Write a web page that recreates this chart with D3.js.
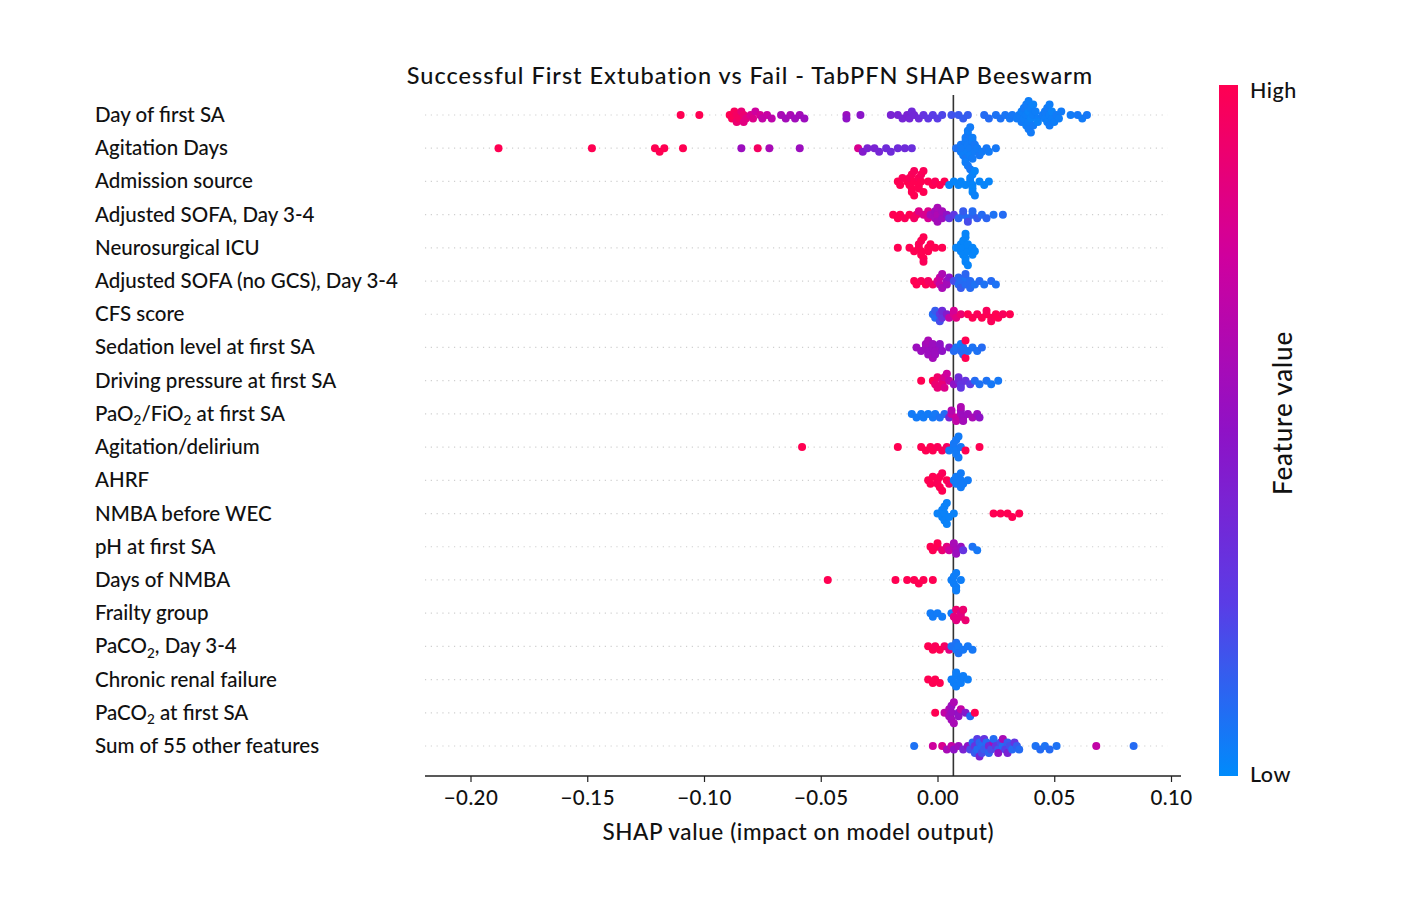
<!DOCTYPE html>
<html>
<head>
<meta charset="utf-8">
<script src="https://cdn.jsdelivr.net/npm/d3@7"></script>
<style>
  body { margin: 0; background: #fff; }
  text { font-family: Lato, "Noto Sans", sans-serif; font-weight: 500; fill: #111; }
</style>
</head>
<body>
<div id="chart"></div>
<script>
// Feature names, top to bottom
const features = [
  "Day of first SA", "Agitation Days", "Admission source", "Adjusted SOFA, Day 3-4",
  "Neurosurgical ICU", "Adjusted SOFA (no GCS), Day 3-4", "CFS score",
  "Sedation level at first SA", "Driving pressure at first SA", "PaO2/FiO2 at first SA",
  "Agitation/delirium", "AHRF", "NMBA before WEC", "pH at first SA", "Days of NMBA",
  "Frailty group", "PaCO2, Day 3-4", "Chronic renal failure", "PaCO2 at first SA",
  "Sum of 55 other features"
];

const xTicks = [-0.20, -0.15, -0.10, -0.05, 0.00, 0.05, 0.10];
const refLine = 0.0068;   // vertical reference line

// [shap value, feature value (0 = low, 1 = high)]
const dayFirstSA = [
  [-0.110, 1], [-0.102, 1],
  [-0.089, 1], [-0.088, 0.98], [-0.087, 0.97], [-0.086, 0.95], [-0.086, 0.9], [-0.085, 0.95], [-0.084, 0.88],
  [-0.083, 0.9], [-0.083, 0.85], [-0.082, 0.85], [-0.080, 0.8], [-0.079, 0.82], [-0.078, 0.75], [-0.076, 0.78],
  [-0.075, 0.7], [-0.073, 0.72], [-0.071, 0.68],
  [-0.067, 0.6], [-0.065, 0.58], [-0.063, 0.6], [-0.061, 0.57], [-0.059, 0.58], [-0.057, 0.55],
  [-0.039, 0.55], [-0.039, 0.5], [-0.033, 0.48],
  [-0.020, 0.4], [-0.017, 0.4], [-0.015, 0.38], [-0.013, 0.4], [-0.012, 0.38], [-0.011, 0.36], [-0.010, 0.37],
  [-0.008, 0.35], [-0.006, 0.3], [-0.004, 0.28], [-0.002, 0.25], [0.000, 0.25], [0.002, 0.22],
  [0.006, 0.18], [0.009, 0.16], [0.011, 0.15], [0.013, 0.15],
  [0.020, 0.1], [0.022, 0.1], [0.025, 0.08], [0.027, 0.08], [0.029, 0.07], [0.031, 0.06], [0.032, 0.06],
  [0.034, 0.05], [0.035, 0.05], [0.036, 0.04], [0.036, 0.05], [0.037, 0.04], [0.037, 0.05], [0.038, 0.04],
  [0.038, 0.04], [0.038, 0.05], [0.039, 0.03], [0.039, 0.04], [0.039, 0.05], [0.039, 0.04], [0.040, 0.03],
  [0.040, 0.04], [0.040, 0.05], [0.041, 0.04], [0.041, 0.05], [0.041, 0.03], [0.042, 0.04], [0.043, 0.04],
  [0.043, 0.03],
  [0.045, 0.05], [0.046, 0.04], [0.046, 0.05], [0.047, 0.04], [0.047, 0.05], [0.048, 0.04], [0.048, 0.05],
  [0.048, 0.04], [0.049, 0.04], [0.049, 0.03], [0.050, 0.04], [0.051, 0.05], [0.052, 0.04], [0.053, 0.05],
  [0.057, 0.05], [0.060, 0.06], [0.062, 0.05], [0.064, 0.06]
];
const agitationDays = [
  [-0.188, 1], [-0.148, 1], [-0.121, 1], [-0.119, 1], [-0.117, 1], [-0.109, 1],
  [-0.084, 0.55], [-0.077, 0.95], [-0.072, 0.6], [-0.059, 0.55],
  [-0.034, 0.8], [-0.032, 0.45], [-0.030, 0.4], [-0.027, 0.4], [-0.025, 0.38], [-0.022, 0.35],
  [-0.020, 0.35], [-0.017, 0.35], [-0.014, 0.35], [-0.011, 0.33],
  [0.008, 0.08], [0.010, 0.05], [0.010, 0.06], [0.011, 0.05], [0.011, 0.04], [0.012, 0.05], [0.012, 0.06],
  [0.012, 0.05], [0.012, 0.04], [0.013, 0.04], [0.013, 0.05], [0.013, 0.06], [0.013, 0.05], [0.013, 0.04],
  [0.014, 0.05], [0.014, 0.04], [0.014, 0.06], [0.014, 0.05], [0.015, 0.05], [0.015, 0.05], [0.015, 0.04],
  [0.016, 0.05], [0.016, 0.06], [0.017, 0.05], [0.018, 0.06], [0.019, 0.05], [0.021, 0.06], [0.022, 0.05],
  [0.025, 0.06]
];
const admissionSource = [
  [-0.017, 1], [-0.016, 1], [-0.015, 0.98], [-0.013, 1], [-0.012, 1], [-0.012, 0.97], [-0.011, 1],
  [-0.011, 0.98], [-0.011, 1], [-0.010, 1], [-0.010, 0.97], [-0.010, 1], [-0.008, 1], [-0.008, 0.98],
  [-0.008, 1], [-0.007, 1], [-0.007, 0.97], [-0.006, 1], [-0.006, 0.98], [-0.004, 1], [-0.002, 1],
  [-0.001, 0.98], [0.001, 1], [0.003, 1],
  [0.005, 0.02], [0.007, 0.02], [0.009, 0.02], [0.010, 0.02], [0.012, 0.02], [0.014, 0.02], [0.014, 0.03],
  [0.015, 0.02], [0.015, 0.02], [0.015, 0.03], [0.015, 0.02], [0.016, 0.02], [0.016, 0.03], [0.018, 0.02],
  [0.020, 0.02], [0.022, 0.02]
];
const adjSofa = [
  [-0.019, 1], [-0.017, 1], [-0.016, 1], [-0.014, 0.98], [-0.012, 1], [-0.010, 0.95], [-0.009, 0.95],
  [-0.008, 0.82], [-0.006, 0.8], [-0.004, 0.78], [-0.004, 0.82],
  [-0.003, 0.6], [-0.001, 0.6], [-0.001, 0.58], [0.000, 0.62], [0.000, 0.58], [0.000, 0.6], [0.002, 0.55],
  [0.002, 0.58], [0.004, 0.5],
  [0.005, 0.3], [0.007, 0.28], [0.009, 0.12], [0.011, 0.1], [0.011, 0.15], [0.013, 0.1], [0.013, 0.2],
  [0.015, 0.12], [0.015, 0.1], [0.017, 0.15], [0.019, 0.1], [0.021, 0.12], [0.024, 0.08], [0.028, 0.1]
];
const neuroICU = [
  [-0.017, 1], [-0.012, 1], [-0.010, 1], [-0.008, 1], [-0.008, 0.98], [-0.007, 1], [-0.007, 1], [-0.007, 0.98],
  [-0.006, 1], [-0.006, 1], [-0.006, 0.98], [-0.004, 1], [-0.004, 1], [-0.003, 1], [-0.001, 1], [0.002, 1],
  [0.008, 0.02], [0.010, 0.02], [0.010, 0.02], [0.011, 0.02], [0.011, 0.02], [0.011, 0.02], [0.012, 0.02],
  [0.012, 0.02], [0.012, 0.02], [0.012, 0.02], [0.013, 0.02], [0.013, 0.02], [0.013, 0.02], [0.015, 0.02],
  [0.015, 0.02], [0.016, 0.02]
];
const adjSofaNoGcs = [
  [-0.010, 1], [-0.009, 1], [-0.007, 0.98], [-0.005, 1], [-0.004, 0.95], [-0.002, 0.95],
  [0.000, 0.8], [0.001, 0.7], [0.001, 0.72], [0.002, 0.6], [0.002, 0.62], [0.004, 0.55], [0.004, 0.58], [0.005, 0.5],
  [0.007, 0.2], [0.009, 0.1], [0.009, 0.12], [0.010, 0.1], [0.010, 0.15], [0.012, 0.1], [0.012, 0.08],
  [0.012, 0.12], [0.014, 0.1], [0.014, 0.1], [0.016, 0.08], [0.018, 0.1], [0.020, 0.08], [0.023, 0.1], [0.025, 0.08]
];
const cfsScore = [
  [-0.002, 0.1], [-0.001, 0.1], [-0.001, 0.15], [0.001, 0.25], [0.001, 0.2], [0.002, 0.3], [0.002, 0.35],
  [0.004, 0.45], [0.005, 0.7], [0.007, 0.8], [0.007, 0.78], [0.008, 0.85], [0.010, 0.9],
  [0.013, 1], [0.015, 1], [0.017, 0.98], [0.019, 1], [0.021, 1], [0.021, 0.97], [0.023, 1], [0.023, 0.98],
  [0.025, 1], [0.026, 1], [0.028, 0.97], [0.031, 1]
];
const sedationLevel = [
  [-0.009, 0.55], [-0.007, 0.55], [-0.005, 0.55], [-0.005, 0.58], [-0.004, 0.55], [-0.004, 0.55], [-0.004, 0.6],
  [-0.002, 0.55], [-0.002, 0.55], [-0.002, 0.58], [-0.001, 0.55], [-0.001, 0.55], [0.001, 0.55], [0.001, 0.5],
  [0.002, 0.5], [0.005, 0.45],
  [0.007, 0.1], [0.008, 0.08], [0.010, 0.1], [0.010, 0.05], [0.011, 0.08], [0.011, 0.1], [0.012, 1], [0.012, 1],
  [0.013, 0.08], [0.015, 0.08], [0.017, 0.08], [0.019, 0.1]
];
const drivingPressure = [
  [-0.007, 1], [-0.002, 1], [-0.001, 0.9], [0.000, 0.92], [0.000, 0.88], [0.002, 0.85], [0.002, 0.88],
  [0.003, 0.8], [0.003, 0.82], [0.004, 0.75], [0.005, 0.7],
  [0.007, 0.5], [0.009, 0.4], [0.009, 0.35], [0.010, 0.3], [0.010, 0.28], [0.012, 0.3], [0.014, 0.25],
  [0.016, 0.1], [0.018, 0.08], [0.021, 0.08], [0.023, 0.06], [0.026, 0.06]
];
const pao2Fio2 = [
  [-0.011, 0.05], [-0.009, 0.05], [-0.007, 0.05], [-0.006, 0.05], [-0.004, 0.05], [-0.002, 0.06],
  [-0.001, 0.06], [0.001, 0.08], [0.003, 0.1],
  [0.005, 0.4], [0.006, 0.7], [0.006, 0.65], [0.008, 0.75], [0.008, 0.7], [0.010, 0.6], [0.010, 0.55],
  [0.010, 0.62], [0.011, 0.55], [0.011, 0.58], [0.013, 0.55], [0.015, 0.6], [0.017, 0.55], [0.018, 0.5]
];
const agitationDelirium = [
  [-0.058, 1], [-0.017, 1], [-0.007, 1], [-0.005, 1], [-0.003, 1], [-0.002, 1], [0.000, 0.98],
  [0.002, 0.98], [0.004, 0.95],
  [0.005, 0.05], [0.007, 0.05], [0.007, 0.06], [0.008, 0.05], [0.008, 0.05], [0.008, 0.06], [0.009, 0.05],
  [0.009, 0.05], [0.010, 0.06], [0.012, 1], [0.018, 1]
];
const ahrf = [
  [-0.004, 1], [-0.003, 1], [-0.002, 1], [0.000, 1], [0.000, 0.98], [0.001, 1], [0.001, 1], [0.002, 0.98],
  [0.002, 1], [0.004, 1], [0.005, 0.95],
  [0.007, 0.05], [0.008, 0.05], [0.008, 0.05], [0.010, 0.05], [0.010, 0.05], [0.010, 0.05], [0.011, 0.05],
  [0.013, 0.05]
];
const nmbaBeforeWec = [
  [0.000, 0.03], [0.002, 0.03], [0.002, 0.03], [0.003, 0.03], [0.003, 0.03], [0.003, 0.03], [0.004, 0.03],
  [0.004, 0.03], [0.005, 0.03], [0.007, 0.03],
  [0.024, 1], [0.027, 1], [0.030, 1], [0.032, 1], [0.035, 1]
];
const phFirstSA = [
  [-0.003, 1], [-0.002, 1], [0.000, 0.98], [0.000, 1], [0.002, 0.9], [0.004, 0.85],
  [0.005, 0.75], [0.007, 0.65], [0.007, 0.6], [0.008, 0.6], [0.008, 0.55], [0.010, 0.55], [0.011, 0.3],
  [0.015, 0.08], [0.017, 0.06]
];
const daysNmba = [
  [-0.047, 1], [-0.018, 1], [-0.013, 1], [-0.010, 1], [-0.008, 1], [-0.006, 1], [-0.002, 1],
  [0.006, 0.04], [0.007, 0.04], [0.007, 0.04], [0.008, 0.04], [0.008, 0.04], [0.008, 0.04], [0.010, 0.04]
];
const frailtyGroup = [
  [-0.003, 0.05], [-0.002, 0.05], [0.000, 0.05], [0.002, 0.05], [0.006, 0.05],
  [0.007, 0.85], [0.008, 0.9], [0.008, 0.85], [0.010, 0.8], [0.010, 0.85], [0.011, 0.9], [0.012, 0.9]
];
const paco2Day34 = [
  [-0.004, 1], [-0.002, 1], [-0.001, 0.98], [0.001, 1], [0.003, 0.95], [0.005, 0.85],
  [0.006, 0.08], [0.008, 0.06], [0.008, 0.08], [0.009, 0.06], [0.009, 0.08], [0.011, 0.06], [0.013, 0.06],
  [0.015, 0.06]
];
const chronicRenal = [
  [-0.004, 1], [-0.002, 1], [-0.001, 1], [0.001, 1],
  [0.006, 0.04], [0.007, 0.04], [0.008, 0.04], [0.008, 0.04], [0.008, 0.04], [0.010, 0.04], [0.010, 0.04],
  [0.011, 0.04], [0.013, 0.04]
];
const paco2FirstSA = [
  [-0.001, 1], [0.003, 0.7], [0.005, 0.6], [0.005, 0.62], [0.006, 0.55], [0.006, 0.58], [0.006, 0.55],
  [0.007, 0.6], [0.007, 0.62], [0.009, 0.5], [0.009, 0.52], [0.010, 0.7], [0.012, 0.45], [0.014, 0.1],
  [0.016, 1]
];
const sumOther = [
  [-0.010, 0.08], [-0.002, 0.75], [0.002, 0.8], [0.004, 0.6], [0.006, 0.7], [0.007, 0.5], [0.009, 0.55],
  [0.011, 0.4], [0.013, 0.5],
  [0.014, 0.2], [0.015, 0.1], [0.016, 0.3], [0.016, 0.15], [0.017, 0.1], [0.017, 0.25], [0.018, 0.12],
  [0.018, 0.4], [0.019, 0.1], [0.019, 0.2], [0.020, 0.15], [0.020, 0.3], [0.021, 0.1], [0.022, 0.35],
  [0.022, 0.12], [0.023, 0.2], [0.024, 0.6], [0.024, 0.1], [0.025, 0.3], [0.026, 0.15], [0.026, 0.5],
  [0.027, 0.2], [0.028, 0.1], [0.028, 0.6], [0.029, 0.25], [0.030, 0.15], [0.030, 0.4], [0.031, 0.2],
  [0.032, 0.1], [0.033, 0.3], [0.034, 0.15], [0.035, 0.1],
  [0.042, 0.08], [0.044, 0.1], [0.046, 0.08], [0.048, 0.1], [0.051, 0.08],
  [0.068, 0.7], [0.084, 0.1]
];

const rows = [
  dayFirstSA, agitationDays, admissionSource, adjSofa, neuroICU, adjSofaNoGcs, cfsScore,
  sedationLevel, drivingPressure, pao2Fio2, agitationDelirium, ahrf, nmbaBeforeWec, phFirstSA,
  daysNmba, frailtyGroup, paco2Day34, chronicRenal, paco2FirstSA, sumOther
];

const width = 1414, height = 902;
const svg = d3.select("#chart").append("svg")
  .attr("width", width).attr("height", height);

const x = d3.scaleLinear().domain([-0.20, 0.10]).range([470.5, 1171]);
const y = d3.scalePoint().domain(features).range([115, 746]);
const color = d3.scaleLinear()
  .domain([0, 0.25, 0.5, 0.75, 1])
  .range(["#008bfb", "#5a3ce6", "#8f12c6", "#cf009e", "#ff0052"]);

// dotted row guides
svg.append("g").selectAll("line").data(features).join("line")
  .attr("x1", x(-0.2195)).attr("x2", x(0.0985))
  .attr("y1", d => y(d)).attr("y2", d => y(d))
  .attr("stroke", "#cfcfcf").attr("stroke-width", 1.2)
  .attr("stroke-dasharray", "1.2,4.6");

// simple beeswarm: stack overlapping dots above/below the row line
const step = 3.5, minDx = 5.5, r = 4;
function swarm(points) {
  const placed = [];
  points.map(([v, f]) => ({ v, f, px: x(v) }))
    .sort((a, b) => a.px - b.px)
    .forEach(p => {
      const near = placed.filter(q => Math.abs(q.px - p.px) < minDx);
      let off = 0;
      for (let i = 0; i < 40; i++) {
        off = i === 0 ? 0 : (i % 2 ? 1 : -1) * Math.ceil(i / 2) * step;
        if (!near.some(q => Math.abs(q.dy - off) < step * 0.5)) break;
      }
      p.dy = off;
      placed.push(p);
    });
  return placed;
}

const dots = rows.flatMap((pts, i) => swarm(pts).map(p => ({ ...p, row: features[i] })));

// reference line
svg.append("line")
  .attr("x1", x(refLine)).attr("x2", x(refLine))
  .attr("y1", 95).attr("y2", 776)
  .attr("stroke", "#333").attr("stroke-width", 1.6);

svg.append("g").selectAll("circle").data(dots).join("circle")
  .attr("cx", d => d.px)
  .attr("cy", d => y(d.row) + d.dy)
  .attr("r", r)
  .attr("fill", d => color(d.f));

// x axis
const axisY = 776;
const gx = svg.append("g").attr("transform", `translate(0,${axisY})`)
  .call(d3.axisBottom(x).tickValues(xTicks).tickFormat(d => d3.format(".2f")(d).replace("-", "\u2212")).tickSize(6).tickPadding(8));
gx.select(".domain").remove();
gx.append("line").attr("x1", x(-0.2195)).attr("x2", x(0.1043))
  .attr("stroke", "#222").attr("stroke-width", 1.6);
gx.selectAll(".tick line").attr("stroke", "#222").attr("stroke-width", 1.2);
gx.selectAll(".tick text").attr("font-family", "Lato, sans-serif").attr("font-weight", 500)
  .attr("font-size", 20.5).attr("letter-spacing", 0.4).attr("fill", "#111");

svg.append("text")
  .attr("x", x(-0.0596)).attr("y", 840)
  .attr("text-anchor", "middle").attr("font-size", 22.5).attr("letter-spacing", 0.6)
  .text("SHAP value (impact on model output)");

// feature labels (with subscript 2 where needed)
const labels = svg.append("g").selectAll("text").data(features).join("text")
  .attr("x", 95).attr("y", d => y(d) + 7)
  .attr("font-size", 20.5);
labels.each(function (d) {
  const t = d3.select(this);
  const parts = d.split(/(O2)/).filter(s => s);
  let lift = 0;
  parts.forEach(s => {
    if (s === "O2") {
      t.append("tspan").attr("dy", lift).text("O");
      t.append("tspan").attr("font-size", 13.5).attr("dy", 4.5).text("2");
      lift = -4.5;
    } else {
      t.append("tspan").attr("dy", lift).text(s);
      lift = 0;
    }
  });
});

// title
svg.append("text")
  .attr("x", 750).attr("y", 84)
  .attr("text-anchor", "middle").attr("font-size", 23.5).attr("letter-spacing", 1)
  .text("Successful First Extubation vs Fail - TabPFN SHAP Beeswarm");

// colour bar
const grad = svg.append("defs").append("linearGradient")
  .attr("id", "cb").attr("x1", 0).attr("x2", 0).attr("y1", 1).attr("y2", 0);
d3.range(0, 1.0001, 0.05).forEach(t =>
  grad.append("stop").attr("offset", t).attr("stop-color", color(t)));
svg.append("rect")
  .attr("x", 1219).attr("y", 85).attr("width", 19).attr("height", 691)
  .attr("fill", "url(#cb)");
svg.append("text").attr("x", 1250).attr("y", 98).attr("font-size", 21.5).attr("letter-spacing", 0.5).text("High");
svg.append("text").attr("x", 1250).attr("y", 782).attr("font-size", 21.5).attr("letter-spacing", 0.5).text("Low");
svg.append("text")
  .attr("transform", "translate(1292,413) rotate(-90)")
  .attr("text-anchor", "middle").attr("font-size", 26).attr("letter-spacing", 0.8)
  .text("Feature value");
</script>
</body>
</html>
